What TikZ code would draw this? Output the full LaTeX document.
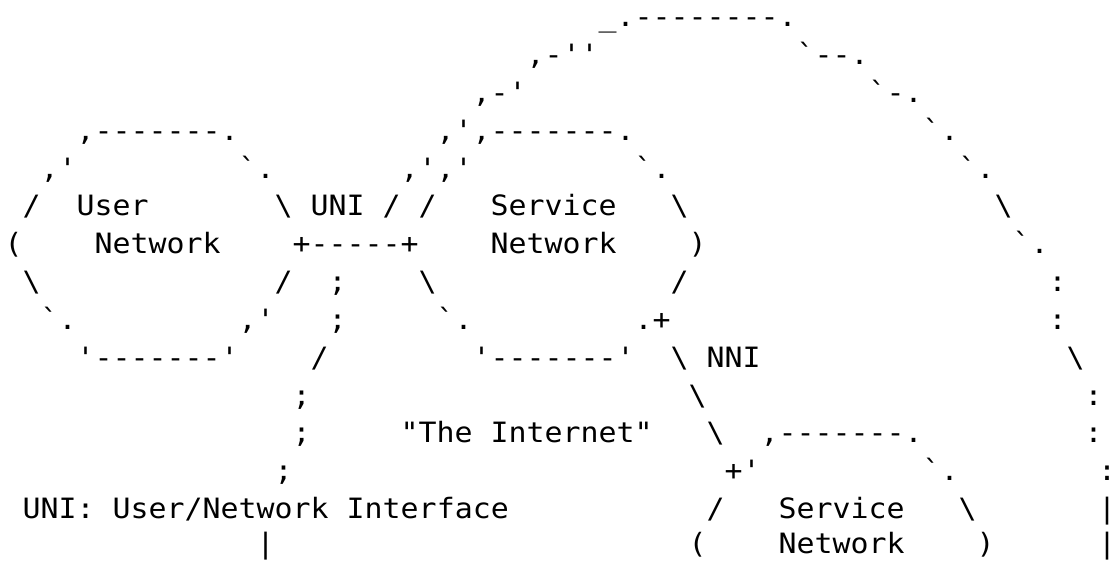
\documentclass[tikz,border=0pt]{standalone}
\usepackage{fontspec}
\setmonofont{DejaVu Sans Mono}[FakeStretch=1.068]
\newcommand\bs{\textbackslash}
\newcommand\us{\textunderscore}
% \gl{name}{column}{line}{text}
\newcommand\gl[4]{\node[asc] (#1) at ({4.7+18*#2},{27+37.8*(#3-1)}) {#4};}
% glyph at the right edge: centred at a given x, zero width
\newcommand\gledge[4]{\node[asc,anchor=base] (#1) at (#2,{27+37.8*(#3-1)}) {\makebox[0pt]{#4}};}
\begin{document}
\begin{tikzpicture}[x=1bp,y=-1bp,
  asc/.style={anchor=base west, inner sep=0pt, outer sep=0pt, text=black,
    font=\ttfamily\fontsize{28bp}{36bp}\selectfont}]
\fill[white] (0,0) rectangle (1117,561);
\useasboundingbox (0,0) rectangle (1117,561);
% line 1
\gl{a1}{33}{1}{\us.--------.}
% line 2
\gl{a2}{29}{2}{,-''}
\gl{b2}{44}{2}{`--.}
% line 3
\gl{a3}{26}{3}{,-'}
\gl{b3}{48}{3}{`-.}
% line 4
\gl{a4}{4}{4}{,-------.}
\gl{b4}{24}{4}{,',-------.}
\gl{c4}{51}{4}{`.}
% line 5
\gl{a5}{2}{5}{,'}
\gl{b5}{13}{5}{`.}
\gl{c5}{22}{5}{,','}
\gl{d5}{35}{5}{`.}
\gl{e5}{53}{5}{`.}
% line 6
\gl{a6}{1}{6}{/}
\gl{b6}{4}{6}{User}
\gl{c6}{15}{6}{\bs{} UNI / /}
\gl{d6}{27}{6}{Service}
\gl{e6}{37}{6}{\bs}
\gl{f6}{55}{6}{\bs}
% line 7
\gl{a7}{0}{7}{(}
\gl{b7}{5}{7}{Network}
\gl{c7}{16}{7}{+-----+}
\gl{d7}{27}{7}{Network}
\gl{e7}{38}{7}{)}
\gl{f7}{56}{7}{`.}
% line 8
\gl{a8}{1}{8}{\bs}
\gl{b8}{15}{8}{/}
\gl{c8}{18}{8}{;}
\gl{d8}{23}{8}{\bs}
\gl{e8}{37}{8}{/}
\gl{f8}{58}{8}{:}
% line 9
\gl{a9}{2}{9}{`.}
\gl{b9}{13}{9}{,'}
\gl{c9}{18}{9}{;}
\gl{d9}{24}{9}{`.}
\gl{e9}{35}{9}{.+}
\gl{f9}{58}{9}{:}
% line 10
\gl{a10}{4}{10}{'-------'}
\gl{b10}{17}{10}{/}
\gl{c10}{26}{10}{'-------'}
\gl{d10}{37}{10}{\bs{} NNI}
\gl{e10}{59}{10}{\bs}
% line 11
\gl{a11}{16}{11}{;}
\gl{b11}{38}{11}{\bs}
\gl{c11}{60}{11}{:}
% line 12
\gl{a12}{16}{12}{;}
\gl{b12}{22}{12}{"The Internet"}
\gl{c12}{39}{12}{\bs}
\gl{d12}{42}{12}{,-------.}
\gl{e12}{60}{12}{:}
% line 13
\gl{a13}{15}{13}{;}
\gl{b13}{40}{13}{+'}
\gl{c13}{51}{13}{`.}
\gledge{d13}{1107}{13}{:}
% line 14
\gl{a14}{1}{14}{UNI: User/Network Interface}
\gl{b14}{39}{14}{/}
\gl{c14}{43}{14}{Service}
\gl{d14}{53}{14}{\bs}
\gledge{e14}{1107}{14}{|}
% line 15 (raised a little so that the bars stay inside)
\node[asc] (a15) at ({4.7+18*14},553.5) {|};
\node[asc] (b15) at ({4.7+18*38},553.5) {(};
\node[asc] (c15) at ({4.7+18*43},553.5) {Network};
\node[asc] (d15) at ({4.7+18*54},553.5) {)};
\node[asc,anchor=base] (e15) at (1107,553.5) {\makebox[0pt]{|}};
\end{tikzpicture}
\end{document}
